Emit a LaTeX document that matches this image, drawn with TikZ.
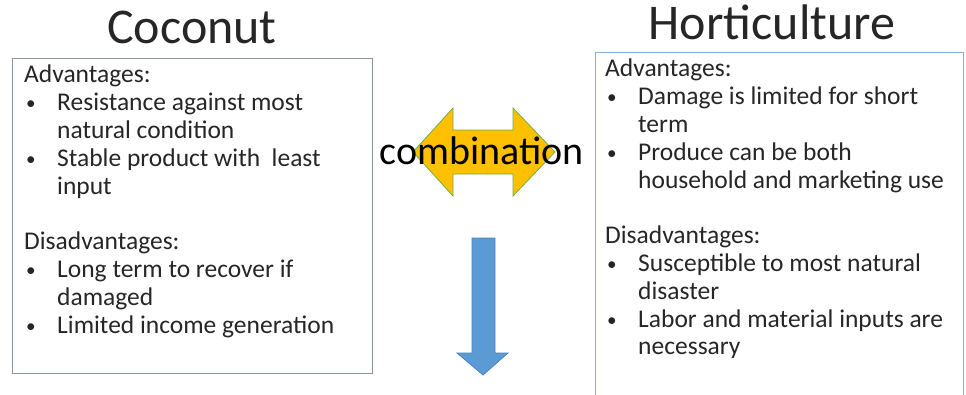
\documentclass[tikz,border=0pt]{standalone}
\usepackage{fontspec}
\setmainfont{Carlito}
\usepackage{tikz}
\usetikzlibrary{positioning}

\definecolor{leftline}{RGB}{135,150,165}
\definecolor{rightline}{RGB}{140,175,210}
\definecolor{comboFill}{RGB}{255,192,0}
\definecolor{comboLine}{RGB}{112,173,71}
\definecolor{downFill}{RGB}{91,155,213}
\definecolor{downLine}{RGB}{75,130,190}

\newcommand{\bitem}{\hspace*{2pt}\makebox[31pt][l]{\raisebox{1pt}{\scalebox{0.75}{\textbullet}}}}
\newcommand{\bcont}{\hspace*{33pt}}

\begin{document}
\begin{tikzpicture} [
                x=1pt, y=-1pt,
                title/.style={font=\fontsize{50}{54}\selectfont, text=black!85},
                panel/.style={draw, rectangle, line width=1.3pt},
                body/.style={anchor=north west, inner sep=0pt, align=left, font=\fontsize{25.5}{27.8}\selectfont, text=black!85},
                bigarrow/.style={line width=0.8pt, line join=miter}
            ]
            \useasboundingbox (0,0) rectangle (966,394);

            % Coconut side
            \begin{scope}
                \node[title] (coconut) at (192,27) {Coconut};
                \node[panel, draw=leftline, minimum width=360, minimum height=315, anchor=north west] (coconutBox) at (12,58) {};
                \node[body] (coconutText) at (24,65) {Advantages:\\
                    \bitem Resistance against most\\
                    \bcont natural condition\\
                    \bitem Stable product with\ \ least\\
                    \bcont input\\[27.8pt]
                    Disadvantages:\\
                    \bitem Long term to recover if\\
                    \bcont damaged\\
                    \bitem Limited income generation};
            \end{scope}

            % Horticulture side
            \begin{scope}
                \node[title] (horti) at (772,22) {Horticulture};
                \node[panel, draw=rightline, minimum width=368, minimum height=360, anchor=north west] (hortiBox) at (595,52) {};
                \node[body] (hortiText) at (605,59) {Advantages:\\
                    \bitem Damage is limited for short\\
                    \bcont term\\
                    \bitem Produce can be both\\
                    \bcont household and marketing use\\[27.8pt]
                    Disadvantages:\\
                    \bitem Susceptible to most natural\\
                    \bcont disaster\\
                    \bitem Labor and material inputs are\\
                    \bcont necessary};
            \end{scope}

            % Arrows
            \draw[bigarrow, fill=comboFill, draw=comboLine]
                (413,152) -- (453,108) -- (453,130) -- (513,130) -- (513,108) -- (555,152)
                -- (513,196) -- (513,174) -- (453,174) -- (453,196) -- cycle;
            \node[font=\fontsize{40}{42}\selectfont, text=black] (combo) at (482,151) {combination};

            \draw[bigarrow, fill=downFill, draw=downLine]
                (472,238) -- (495,238) -- (495,353) -- (508,353) -- (483,375)
                -- (457,353) -- (472,353) -- cycle;
        \end{tikzpicture}
\end{document}
